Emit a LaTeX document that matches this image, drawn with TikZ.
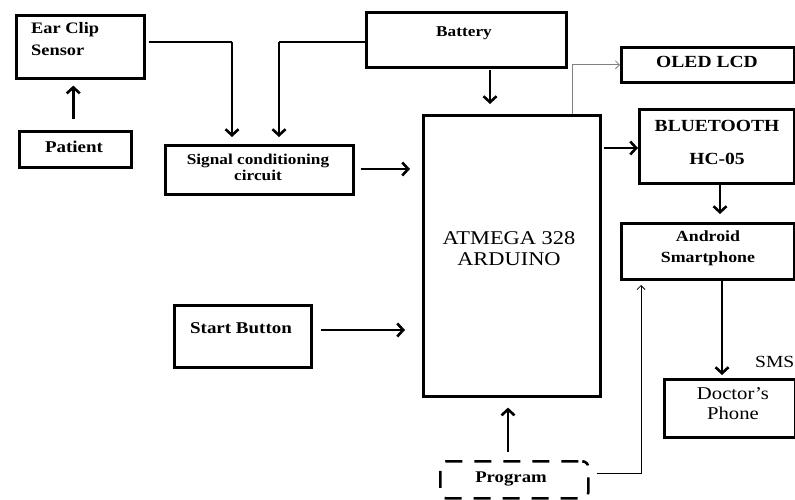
\documentclass[tikz,border=0pt]{standalone}
\usepackage{fontspec}
\setmainfont{Liberation Serif}[FakeStretch=1.15]
\usetikzlibrary{arrows.meta,calc}
\newcommand{\fs}[2]{\fontsize{#1}{#2}\selectfont}
\begin{document}
\begin{tikzpicture}[x=1pt,y=-1pt,
  box/.style={draw, line width=2.6pt, anchor=north west, inner sep=0pt},
  dbox/.style={draw, line width=2.6pt, dash pattern=on 17pt off 12pt, dash phase=-4pt, rounded corners=6pt, anchor=north west, inner sep=0pt},
  txt/.style={font=\bfseries, align=center, inner sep=0pt},
  conn/.style={line width=2.6pt, -{Straight Barb[length=6pt,width=13pt,line width=2.6pt]}},
  thin/.style={line width=0.8pt, -{Straight Barb[length=4pt,width=8pt]}},
]
\useasboundingbox (0,0) rectangle (795,500);
% boxes
\node[box, minimum width=128pt, minimum height=63pt] (ear) at (15,14) {};
\node[txt, anchor=north west, align=left, font=\bfseries\fs{16}{22}] (eart) at (31,22) {Ear Clip\\Sensor};
\node[box, minimum width=112pt, minimum height=36pt] (pat) at (18,130) {};
\node[txt, font=\bfseries\fs{16.5}{18}] (patt) at (74,147) {Patient};
\node[box, minimum width=188pt, minimum height=49pt] (sig) at (164,144) {};
\node[txt, font=\bfseries\fs{15}{16}] (sigt) at (258,167) {Signal conditioning\\circuit};
\node[box, minimum width=200pt, minimum height=55pt] (bat) at (365,11) {};
\node[txt, font=\bfseries\fs{15}{16}] (batt) at (464,33) {Battery};
\node[box, minimum width=177pt, minimum height=281pt] (ard) at (422,114) {};
\node[txt, font=\fs{19.5}{21}] (ardt) at (509,249) {ATMEGA 328\\ARDUINO};
\node[box, minimum width=173pt, minimum height=35pt] (oled) at (620,46) {};
\node[txt, font=\bfseries\fs{17}{18}] (oledt) at (707,62) {OLED LCD};
\node[box, minimum width=155pt, minimum height=74pt] (bt) at (638,108) {};
\node[txt, font=\bfseries\fs{17}{33}] (btt) at (717,142) {BLUETOOTH\\HC-05};
\node[box, minimum width=173pt, minimum height=56pt] (and) at (620,222) {};
\node[txt, font=\bfseries\fs{15.5}{21}] (andt) at (708,248) {Android\\Smartphone};
\node[box, minimum width=131pt, minimum height=58pt] (doc) at (663,378) {};
\node[txt, font=\fs{18}{20}] (doct) at (733,404) {Doctor's\\Phone};
\node[box, minimum width=137pt, minimum height=62pt] (start) at (173,304) {};
\node[txt, font=\bfseries\fs{16.5}{18}] (startt) at (241,328) {Start Button};
\node[dbox, minimum width=148pt, minimum height=37pt] (prog) at (439,460) {};
\node[txt, font=\bfseries\fs{16.3}{18}] (progt) at (511,479) {Program};
\node[txt, font=\fs{17}{18}, anchor=west] (sms) at (755,362) {SMS};
% connectors
\draw[conn] ($(pat.north)+(-2,-11)$) -- ($(ear.south)+(-7,6)$ -| 72,0);
\coordinate (e1) at (232,42);
\draw[line width=2.6pt] ($(ear.east |- e1)+(3,0)$) -- (e1);
\draw[conn] (e1) -- ($(e1 |- sig.north)+(0,-7)$);
\coordinate (b1) at (279,42);
\draw[line width=2.6pt] (bat.west |- b1) -- (b1);
\draw[conn] (b1) -- ($(b1 |- sig.north)+(0,-7)$);
\draw[conn] ($(sig.east |- 0,169)+(6,0)$) -- (410,169);
\coordinate (b2) at (490,70);
\draw[conn] (b2) -- ($(b2 |- ard.north)+(0,-10)$);
\draw[conn] ($(start.east |- 0,330)+(8,0)$) -- (405,330);
\draw[conn] ($(ard.east |- 0,148)+(2,0)$) -- (bt.west |- 0,148);
\draw[thin, gray] (572,114) |- (oled.west);
\coordinate (b3) at (720,182);
\draw[conn] (b3) -- ($(b3 |- and.north)+(0,-8)$);
\coordinate (a3) at (722,278);
\draw[conn] (a3) -- ($(a3 |- doc.north)+(0,-3)$);
\coordinate (p1) at (508,452);
\draw[conn] (p1) -- ($(p1 |- ard.south)+(0,10)$);
\coordinate (p2) at (641,473);
\draw[thin] ($(prog.east |- p2)+(7,0)$) -- (p2) -- (641,285);
\end{tikzpicture}
\end{document}
